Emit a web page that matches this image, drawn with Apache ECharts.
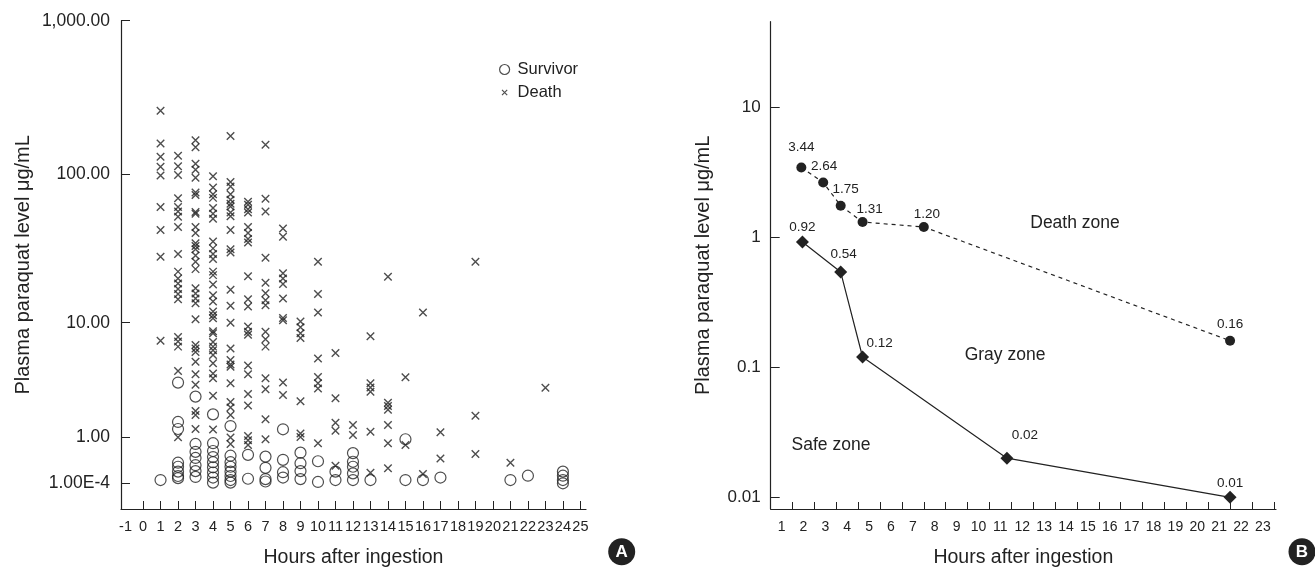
<!DOCTYPE html>
<html>
<head>
<meta charset="utf-8">
<script src="https://cdn.jsdelivr.net/npm/echarts@6/dist/echarts.min.js"></script>
<style>
html,body{margin:0;padding:0;background:#fff}
#main{width:1315px;height:571px}
</style>
</head>
<body>
<div id="main"></div>
<script>
var FONT = "'Liberation Sans', Arial, sans-serif";
var INK = '#222';

// panel A : plasma level (ug/mL) by hour, grouped per hour
var survivorLevels = [
	[1, [0.05]],
	[2, [3.5, 1.5, 1.25, 0.36, 0.28, 0.19, 0.115, 0.08]],
	[3, [2.65, 0.8, 0.6, 0.46, 0.31, 0.2, 0.1]],
	[4, [1.8, 0.82, 0.62, 0.48, 0.37, 0.27, 0.175, 0.09, 0.01]],
	[5, [1.35, 0.51, 0.37, 0.28, 0.19, 0.115, 0.05, 0.01]],
	[6, [0.53, 0.07]],
	[7, [0.49, 0.26, 0.065, 0.027]],
	[8, [1.24, 0.42, 0.18, 0.09]],
	[9, [0.58, 0.35, 0.2, 0.065]],
	[10, [0.39, 0.02]],
	[11, [0.19, 0.05]],
	[12, [0.57, 0.38, 0.28, 0.16, 0.05]],
	[13, [0.05]],
	[15, [0.93, 0.05]],
	[16, [0.05]],
	[17, [0.09]],
	[21, [0.05]],
	[22, [0.12]],
	[24, [0.19, 0.12, 0.05, 0]]
];
var deathLevels = [
	[1, [260, 159, 130, 112, 98, 61, 43, 28.5, 7.4]],
	[2, [132, 113, 99, 69.5, 61, 57, 52.6, 45, 29.7, 22.6, 20.3, 18.8, 17.2, 15.9, 14.6, 7.9, 7.3, 6.7, 4.35, 0.99]],
	[3, [167, 150, 117, 107, 95, 76, 73, 56.5, 55, 45, 41, 35, 33.6, 32, 29, 26.4, 23.5, 17.4, 16, 14.8, 13.7, 10.6, 6.9, 6.5, 6.1, 5.15, 4.1, 3.35, 1.94, 1.77, 1.25]],
	[4, [97, 82, 74, 70, 60, 55, 51, 36, 32.4, 29.7, 27.5, 22.6, 21.4, 18.5, 15.6, 14.1, 12, 11.3, 10.75, 8.7, 8.4, 7.25, 6.7, 6.3, 5.8, 5.0, 4.15, 3.8, 2.7, 1.23]],
	[5, [178, 89, 83, 74, 68, 64, 61.4, 56, 53, 43, 32, 30.4, 17, 13.2, 10, 6.5, 5.3, 4.9, 4.7, 3.45, 2.37, 2.1, 1.77, 0.98, 0.8]],
	[6, [66, 63, 59, 56, 45, 41, 37.4, 35.5, 21, 14.6, 13, 9.4, 8.6, 8.2, 4.8, 4.1, 2.8, 2.2, 1.03, 0.9, 0.77]],
	[7, [156, 69, 57, 28, 19, 16.1, 14.4, 13.3, 8.6, 7.6, 6.7, 3.8, 3.07, 1.6, 0.93]],
	[8, [44, 38.7, 22, 20.3, 18.6, 14.8, 10.8, 10.4, 3.5, 2.74]],
	[9, [10.2, 9.3, 8.4, 7.75, 2.4, 1.1, 1.0]],
	[10, [26.4, 15.9, 11.8, 5.45, 3.9, 3.45, 3.12, 0.82]],
	[11, [6.0, 2.56, 1.47, 1.19, 0.3]],
	[12, [1.39, 1.06]],
	[13, [8.0, 3.45, 3.18, 2.93, 1.16, 0.17]],
	[14, [20.9, 2.33, 2.17, 2.0, 1.39, 0.82, 0.25]],
	[15, [3.87, 0.77]],
	[16, [11.8, 0.15]],
	[17, [1.14, 0.45]],
	[19, [26.4, 1.74, 0.55]],
	[21, [0.36]],
	[23, [3.17]]
];
var yTickValuesA = [0.0001, 1, 10, 100, 1000];
var yTickLabelsA = ['1.00E-4', '1.00', '10.00', '100.00', '1,000.00'];
var xLabelHoursA = [];
for (var i = -1; i <= 25; i++) xLabelHoursA.push(i);
var xTickHoursA = xLabelHoursA.slice(1);

// panel B : cut-off lines
var deathLineHours = [1.9, 2.9, 3.7, 4.7, 7.5, 21.5];
var deathLineLevels = [3.44, 2.64, 1.75, 1.31, 1.20, 0.16];
var safeLineHours = [1.95, 3.7, 4.7, 11.3, 21.5];
var safeLineLevels = [0.92, 0.54, 0.12, 0.02, 0.01];
var yTickValuesB = [0.01, 0.1, 1, 10];
var yTickLabelsB = ['0.01', '0.1', '1', '10'];
var xLabelHoursB = [];
for (var i = 1; i <= 23; i++) xLabelHoursB.push(i);
var xTickHoursB = xLabelHoursB.map(function (h) { return h + 0.5; });

// label nudges (px) for panel B point labels
var deathLabelOffsets = [[0, -3], [1, 1], [5, 1], [7, 4], [3, 4], [0, 1]];
var safeLabelOffsets = [[0, 4], [3, 1], [17, 5], [18, -4], [0, 4]];

// log10(v+1) scale used by panel A
function yA(v) { return Math.log10(v + 1); }
function flatten(groups) {
	var out = [];
	groups.forEach(function (g) {
		g[1].forEach(function (v) { out.push([g[0], yA(v)]); });
	});
	return out;
}
function lineData(hours, levels, offsets) {
	return hours.map(function (h, k) {
		return { value: [h, levels[k]], label: { offset: offsets[k] } };
	});
}

var CROSS = 'path://M0,0L10,10M10,0L0,10';
var CROSS_ICON = 'path://M0,0M10,10M2.4,2.4L7.6,7.6M7.6,2.4L2.4,7.6';

var chart = echarts.init(document.getElementById('main'));

var option = {
	animation: false,
	backgroundColor: '#fff',
	textStyle: { fontFamily: FONT, color: INK },
	grid: [
		{ left: 121, top: 20.7, width: 465, height: 488.3, outerBoundsMode: 'none', containLabel: false },
		{ left: 770.7, top: 21.7, width: 505.3, height: 487.3, outerBoundsMode: 'none', containLabel: false }
	],
	legend: {
		left: 494, top: 56, orient: 'vertical',
		itemWidth: 16, itemHeight: 10, itemGap: 6,
		itemStyle: { borderWidth: 1.2 },
		textStyle: { fontSize: 16.5, fontFamily: FONT, color: INK },
		data: [
			{ name: 'Survivor', icon: 'circle' },
			{ name: 'Death', icon: CROSS_ICON }
		]
	},
	xAxis: [{
		gridIndex: 0, type: 'value', min: -1.26, max: 25.32,
		axisLine: { onZero: false, lineStyle: { color: INK, width: 1.2 } },
		axisTick: { inside: true, length: 8, customValues: xTickHoursA, lineStyle: { color: INK } },
		axisLabel: { customValues: xLabelHoursA, showMaxLabel: true, margin: 10, color: INK, fontSize: 14.5, fontFamily: FONT },
		splitLine: { show: false },
		name: 'Hours after ingestion', nameLocation: 'middle', nameGap: 39,
		nameTextStyle: { fontSize: 19.5, fontFamily: FONT, color: INK }
	}, {
		gridIndex: 1, type: 'value', min: 0.5, max: 23.6,
		axisLine: { onZero: false, lineStyle: { color: INK, width: 1.2 } },
		axisTick: { inside: true, length: 7, customValues: xTickHoursB, lineStyle: { color: INK } },
		axisLabel: { customValues: xLabelHoursB, margin: 11, color: INK, fontSize: 14, fontFamily: FONT },
		splitLine: { show: false },
		name: 'Hours after ingestion', nameLocation: 'middle', nameGap: 39,
		nameTextStyle: { fontSize: 19.5, fontFamily: FONT, color: INK }
	}],
	yAxis: [{
		gridIndex: 0, type: 'value', min: -0.1667, max: yA(1000),
		axisLine: { show: true, onZero: false, lineStyle: { color: INK, width: 1.2 } },
		axisTick: { show: true, inside: true, length: 9, customValues: yTickValuesA.map(yA), lineStyle: { color: INK } },
		axisLabel: {
			customValues: yTickValuesA.map(yA), showMaxLabel: true, margin: 11, color: INK, fontSize: 17.5, fontFamily: FONT,
			formatter: function (val) {
				for (var k = 0; k < yTickValuesA.length; k++) {
					if (Math.abs(yA(yTickValuesA[k]) - val) < 1e-6) return yTickLabelsA[k];
				}
				return '';
			}
		},
		splitLine: { show: false },
		name: 'Plasma paraquat level \u03bcg/mL', nameLocation: 'middle', nameGap: 88, nameRotate: 90,
		nameTextStyle: { fontSize: 20, fontFamily: FONT, color: INK }
	}, {
		gridIndex: 1, type: 'log', logBase: 10, min: 0.00813, max: 45.5,
		axisLine: { show: true, onZero: false, lineStyle: { color: INK, width: 1.2 } },
		axisTick: { show: true, inside: true, length: 9, customValues: yTickValuesB, lineStyle: { color: INK } },
		axisLabel: {
			customValues: yTickValuesB, margin: 10, color: INK, fontSize: 17, fontFamily: FONT,
			formatter: function (val) {
				for (var k = 0; k < yTickValuesB.length; k++) {
					if (Math.abs(Math.log10(yTickValuesB[k]) - Math.log10(val)) < 1e-6) return yTickLabelsB[k];
				}
				return '';
			}
		},
		splitLine: { show: false },
		name: 'Plasma paraquat level \u03bcg/mL', nameLocation: 'middle', nameGap: 57.5, nameRotate: 90,
		nameTextStyle: { fontSize: 20, fontFamily: FONT, color: INK }
	}],
	series: [{
		name: 'Survivor', type: 'scatter', xAxisIndex: 0, yAxisIndex: 0,
		symbol: 'circle', symbolSize: 11,
		itemStyle: { color: 'rgba(0,0,0,0)', borderColor: INK, borderWidth: 1.2 },
		data: flatten(survivorLevels)
	}, {
		name: 'Death', type: 'scatter', xAxisIndex: 0, yAxisIndex: 0,
		symbol: CROSS, symbolSize: 7.5,
		itemStyle: { color: 'rgba(0,0,0,0)', borderColor: INK, borderWidth: 1.4 },
		data: flatten(deathLevels)
	}, {
		name: 'Death cut-off', type: 'line', xAxisIndex: 1, yAxisIndex: 1,
		symbol: 'circle', symbolSize: 10,
		itemStyle: { color: INK },
		lineStyle: { color: INK, width: 1.2, type: [4, 4] },
		label: {
			show: true, position: 'top', color: INK, fontSize: 13.5, fontFamily: FONT,
			formatter: function (p) { return p.value[1].toFixed(2); }
		},
		data: lineData(deathLineHours, deathLineLevels, deathLabelOffsets)
	}, {
		name: 'Safe cut-off', type: 'line', xAxisIndex: 1, yAxisIndex: 1,
		symbol: 'diamond', symbolSize: 13,
		itemStyle: { color: INK },
		lineStyle: { color: INK, width: 1.2 },
		label: {
			show: true, position: 'top', color: INK, fontSize: 13.5, fontFamily: FONT,
			formatter: function (p) { return p.value[1].toFixed(2); }
		},
		data: lineData(safeLineHours, safeLineLevels, safeLabelOffsets)
	}],
	graphic: [
		{ type: 'text', x: 1075, y: 222.7, style: { text: 'Death zone', fontSize: 17.5, fontFamily: FONT, fill: INK, align: 'center', verticalAlign: 'middle' } },
		{ type: 'text', x: 1005, y: 355, style: { text: 'Gray zone', fontSize: 17.5, fontFamily: FONT, fill: INK, align: 'center', verticalAlign: 'middle' } },
		{ type: 'text', x: 831, y: 445, style: { text: 'Safe zone', fontSize: 17.5, fontFamily: FONT, fill: INK, align: 'center', verticalAlign: 'middle' } },
		{ type: 'circle', shape: { cx: 621.7, cy: 551.7, r: 13.5 }, style: { fill: INK } },
		{ type: 'text', x: 621.7, y: 552.5, style: { text: 'A', fontSize: 17, fontWeight: 'bold', fontFamily: FONT, fill: '#fff', align: 'center', verticalAlign: 'middle' } },
		{ type: 'circle', shape: { cx: 1302, cy: 551.7, r: 13.5 }, style: { fill: INK } },
		{ type: 'text', x: 1302, y: 552.5, style: { text: 'B', fontSize: 17, fontWeight: 'bold', fontFamily: FONT, fill: '#fff', align: 'center', verticalAlign: 'middle' } }
	]
};

chart.setOption(option);
</script>
</body>
</html>
